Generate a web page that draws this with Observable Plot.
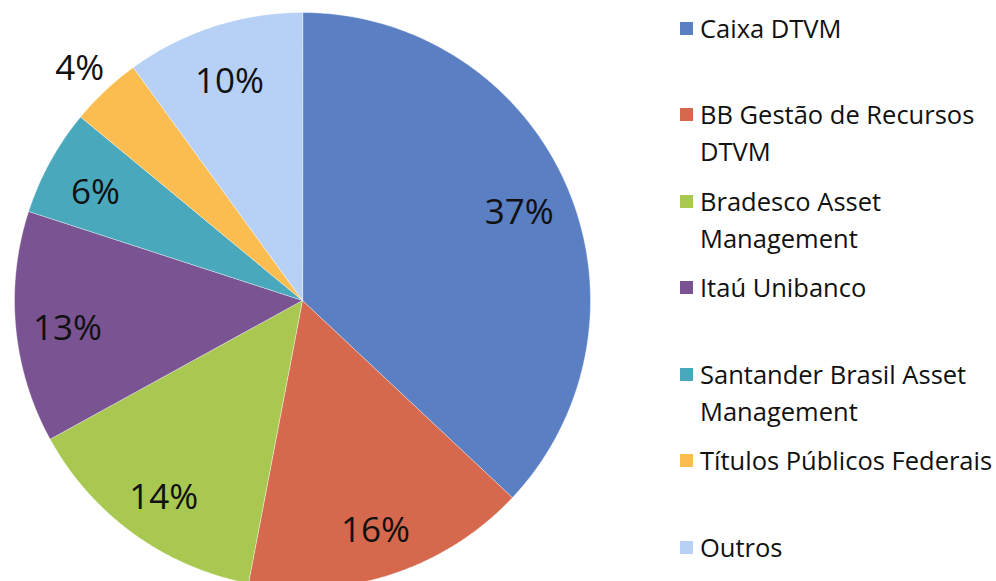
<!DOCTYPE html>
<html>
<head>
<meta charset="utf-8">
<script src="https://cdn.jsdelivr.net/npm/d3@7"></script>
<script src="https://cdn.jsdelivr.net/npm/@observablehq/plot@0.6"></script>
<style>
  html, body { margin: 0; padding: 0; background: #fff; }
  #wrap { position: relative; width: 996px; height: 581px; overflow: hidden; font-family: "Open Sans", sans-serif; }
  #legend { position: absolute; left: 680px; top: 9.5px; width: 316px; }
  .item { height: 86.5px; display: flex; align-items: flex-start; }
  .sw { width: 13px; height: 13px; margin-top: 12px; margin-right: 7px; flex: none; }
  .lab { font-size: 25.5px; line-height: 37px; color: #111; width: 296px; }
</style>
</head>
<body>
<div id="wrap">
  <div id="chart"></div>
  <div id="legend"></div>
</div>
<script>
const categories = ["Caixa DTVM", "BB Gestão de Recursos DTVM", "Bradesco Asset Management", "Itaú Unibanco", "Santander Brasil Asset Management", "Títulos Públicos Federais", "Outros"];
const shares = [37, 16, 14, 13, 6, 4, 10];
const labels = ["37%", "16%", "14%", "13%", "6%", "4%", "10%"];
const colors = ["#5a7fc2", "#d6694d", "#a8c852", "#7a5392", "#4aa8bd", "#fbbd4f", "#b6d0f6"];

const pie = d3.pie().sort(null).value(d => d.share);
const rows = categories.map((name, i) => ({name, share: shares[i], label: labels[i]}));
const arcs = pie(rows);

// polygon vertices in unit-circle coordinates (angle measured clockwise from top)
const poly = [];
arcs.forEach(a => {
  poly.push({name: a.data.name, x: 0, y: 0});
  const n = Math.max(2, Math.ceil((a.endAngle - a.startAngle) / (Math.PI / 360)));
  for (let k = 0; k <= n; k++) {
    const t = a.startAngle + (a.endAngle - a.startAngle) * k / n;
    poly.push({name: a.data.name, x: Math.sin(t), y: Math.cos(t)});
  }
});

const labelPts = arcs.map(a => {
  const m = (a.startAngle + a.endAngle) / 2;
  const r = a.data.share < 5 ? 1.13 : 0.82;
  return {label: a.data.label, x: r * Math.sin(m), y: r * Math.cos(m)};
});

const chart = Plot.plot({
  width: 996,
  height: 581,
  margin: 0,
  x: {domain: [-1, 1], range: [14, 590], axis: null},
  y: {domain: [-1, 1], range: [588, 12], axis: null},
  color: {domain: categories, range: colors},
  style: {background: "transparent"},
  marks: [
    Plot.line(poly, {x: "x", y: "y", z: "name", fill: "name", stroke: "#ffffff", strokeWidth: 0.7, strokeOpacity: 0.6, curve: "linear-closed"}),
    Plot.text(labelPts, {x: "x", y: "y", text: "label", fontSize: 35, fontFamily: "Open Sans", fill: "#111", dy: 6})
  ]
});
document.getElementById("chart").appendChild(chart);

const legend = document.getElementById("legend");
categories.forEach((name, i) => {
  const it = document.createElement("div");
  it.className = "item";
  const sw = document.createElement("div");
  sw.className = "sw";
  sw.style.background = colors[i];
  const lb = document.createElement("div");
  lb.className = "lab";
  lb.textContent = name;
  it.appendChild(sw);
  it.appendChild(lb);
  legend.appendChild(it);
});
</script>
</body>
</html>
